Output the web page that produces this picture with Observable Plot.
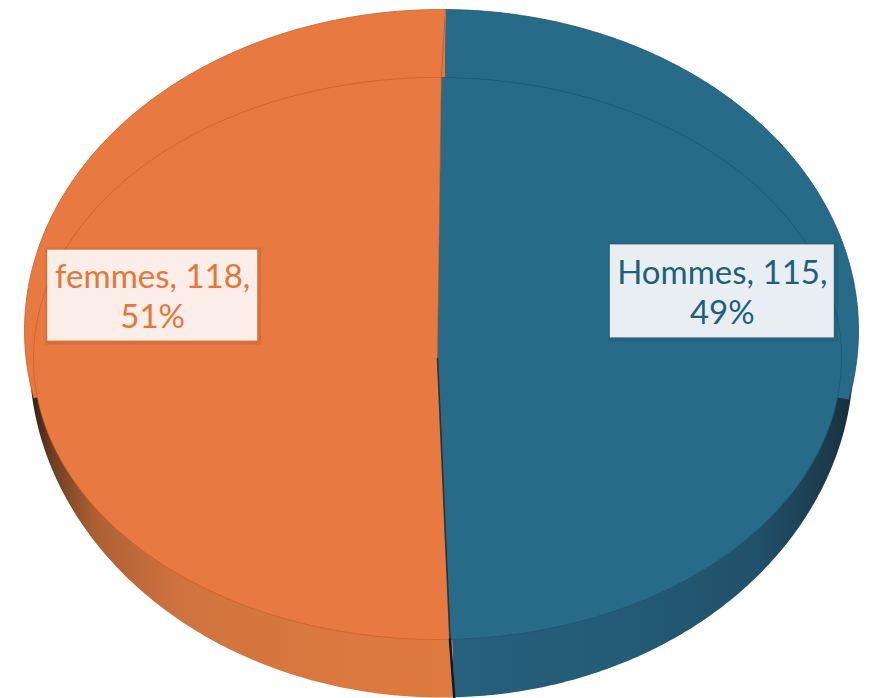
<!DOCTYPE html>
<html>
<head>
<meta charset="utf-8">
<script src="https://cdn.jsdelivr.net/npm/d3@7"></script>
<script src="https://cdn.jsdelivr.net/npm/@observablehq/plot@0.6"></script>
<style>
  html, body { margin: 0; padding: 0; background: #ffffff; }
  #chart svg { display: block; }
</style>
</head>
<body>
<div id="chart"></div>
<script>
// ---- data ----
const categories = ["Hommes", "femmes"];
const values = [115, 118];
const percents = [49, 51];

// ---- styles ----
const topColor = ["#286B88", "#E87A41"];
const edgeColor = ["#1b5470", "#cc5d22"];
const textColor = ["#1F5F7E", "#E5763A"];
const boxFill = ["#E9EEF2", "#FBEEE8"];

// ---- layout ----
const W = 869, H = 698;
const bevel = {cx: 441, cy: 330, rx: 417, ry: 321};   // upper silhouette (bevel)
const wallB = {cx: 441, cy: 358, rx: 412, ry: 339};   // bottom edge of the side wall
const face = {cx: 437, cy: 358, rx: 404, ry: 281};    // top face
const startA = 0.0096;
const bevelBottom = 400;
const labelR = 0.705, labelDy = -65;
const boxW = [224, 210], boxH = [93, 91];

const pie = d3.pie().sort(null).startAngle(startA).endAngle(startA + 2 * Math.PI)(values);

function pt(e, a, k = 1) {
  return [e.cx + e.rx * k * Math.sin(a), e.cy - e.ry * k * Math.cos(a)];
}
function arcPts(e, a0, a1, n = 300) {
  const pts = [];
  for (let i = 0; i <= n; i++) pts.push(pt(e, a0 + (a1 - a0) * i / n));
  return pts;
}
const X = d => d[0], Y = d => d[1];

const marks = [];

// gradient definitions for the side walls
marks.push(() => {
  const defs = d3.create("svg:defs");
  const g0 = defs.append("linearGradient").attr("id", "wall0")
    .attr("gradientUnits", "userSpaceOnUse").attr("x1", 458).attr("x2", 856).attr("y1", 0).attr("y2", 0);
  [[0, "#26607d"], [0.45, "#245a74"], [0.75, "#21506a"], [0.92, "#1c3c4d"], [1, "#172a35"]]
    .forEach(([o, c]) => g0.append("stop").attr("offset", o).attr("stop-color", c));
  const g1 = defs.append("linearGradient").attr("id", "wall1")
    .attr("gradientUnits", "userSpaceOnUse").attr("x1", 29).attr("x2", 460).attr("y1", 0).attr("y2", 0);
  [[0, "#2e1c12"], [0.05, "#6a3d22"], [0.15, "#ad6034"], [0.35, "#cf733e"], [0.7, "#db7840"], [1, "#df7a40"]]
    .forEach(([o, c]) => g1.append("stop").attr("offset", o).attr("stop-color", c));
  return defs.node();
});

// side walls (full wedge of the lower ellipse; the upper part is covered afterwards)
pie.forEach((s, i) => {
  const c = [wallB.cx, wallB.cy];
  marks.push(Plot.line([c, ...arcPts(wallB, s.startAngle, s.endAngle), c],
    {x: X, y: Y, fill: `url(#wall${i})`, stroke: "none", curve: "linear"}));
});

// bevel (upper silhouette) wedges
pie.forEach((s, i) => {
  const c = [bevel.cx, bevel.cy];
  const pts = arcPts(bevel, s.startAngle, s.endAngle).filter(p => p[1] <= bevelBottom);
  marks.push(Plot.line([c, ...pts, c], {x: X, y: Y, fill: topColor[i], stroke: "none", curve: "linear"}));
  marks.push(Plot.line(pts, {x: X, y: Y, stroke: edgeColor[i], strokeWidth: 0.8, curve: "linear"}));
});

// top face wedges
pie.forEach((s, i) => {
  const c = [face.cx, face.cy];
  const poly = [c, ...arcPts(face, s.startAngle, s.endAngle), c];
  marks.push(Plot.line(poly, {x: X, y: Y, fill: topColor[i], stroke: "none", curve: "linear"}));
  marks.push(Plot.line(arcPts(face, s.startAngle, s.endAngle), {x: X, y: Y, stroke: edgeColor[i], strokeWidth: 1, strokeOpacity: 0.7, curve: "linear"}));
});

// slice boundaries
const split = pie[0].endAngle;
marks.push(Plot.line([pt(bevel, startA), pt(face, startA), [face.cx, face.cy]], {x: X, y: Y, stroke: "#8a4a26", strokeWidth: 1, strokeOpacity: 0.55}));
marks.push(Plot.line([[face.cx, face.cy], pt(face, split)], {x: X, y: Y, stroke: "#14232b", strokeWidth: 1.6, strokeOpacity: 0.8}));
marks.push(Plot.line([pt(face, split), pt(wallB, split)], {x: X, y: Y, stroke: "#0e1a20", strokeWidth: 2.5}));

// labels
pie.forEach((s, i) => {
  const mid = (s.startAngle + s.endAngle) / 2;
  const [lx, ly0] = pt(face, mid, labelR);
  const ly = ly0 + labelDy;
  const d = [{x: lx, y: ly, label: `${categories[i]}, ${values[i]},\n${percents[i]}%`}];
  marks.push(Plot.rect(d, {x1: d => d.x - boxW[i] / 2 - 2, x2: d => d.x + boxW[i] / 2 + 4,
    y1: d => d.y - boxH[i] / 2 - 2, y2: d => d.y + boxH[i] / 2 + 4, fill: "#000", fillOpacity: 0.08}));
  marks.push(Plot.rect(d, {x1: d => d.x - boxW[i] / 2, x2: d => d.x + boxW[i] / 2,
    y1: d => d.y - boxH[i] / 2, y2: d => d.y + boxH[i] / 2, fill: boxFill[i]}));
  marks.push(Plot.text(d, {x: "x", y: "y", text: "label", fill: textColor[i], fontSize: 33,
    fontFamily: "Lato", lineHeight: 1.21, textAnchor: "middle"}));
});

const chart = Plot.plot({
  width: W, height: H,
  margin: 0,
  x: {domain: [0, W], range: [0, W], axis: null},
  y: {domain: [0, H], range: [0, H], axis: null},
  style: {background: "#ffffff", overflow: "hidden"},
  marks
});
document.getElementById("chart").appendChild(chart);
</script>
</body>
</html>
